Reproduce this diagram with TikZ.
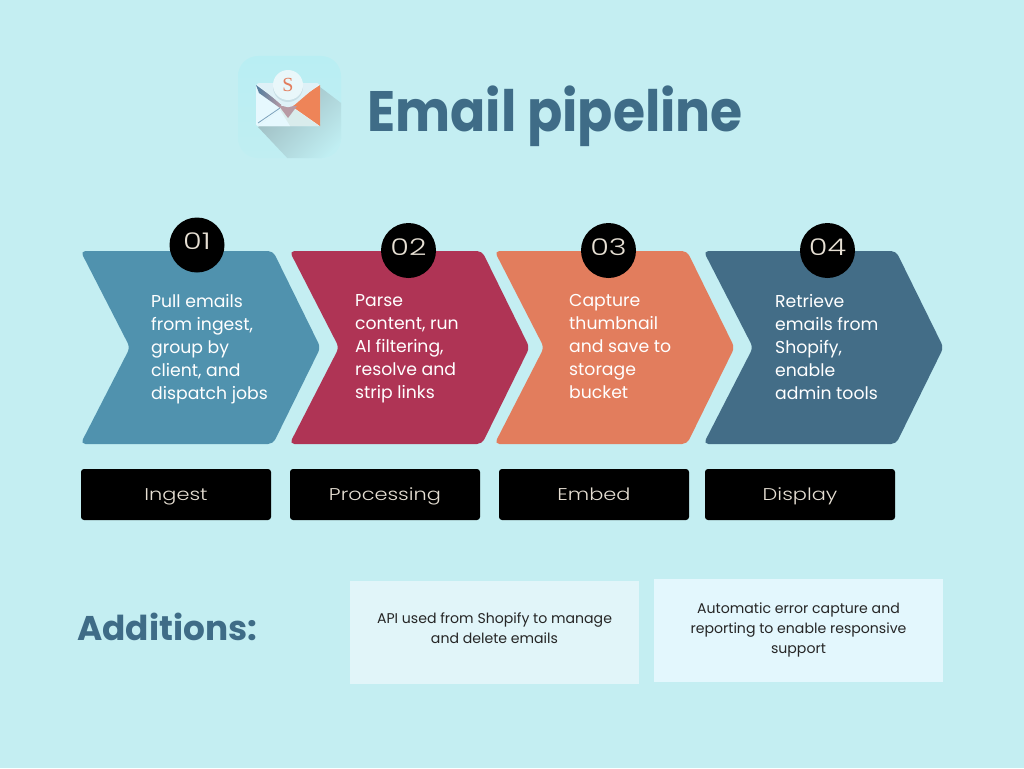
\documentclass[tikz,border=0pt]{standalone}
\usepackage{fontspec}
\setmainfont{Poppins}
\newfontfamily\widefont[FakeStretch=1.23]{Poppins Light}
\newfontfamily\numfont[FakeStretch=1.32]{Poppins Light}
\newfontfamily\titlefont[FakeStretch=0.912]{Poppins Bold}
\newfontfamily\iconserif{Liberation Serif}
\usetikzlibrary{shadings,fadings}
\definecolor{pagebg}{HTML}{C4EEF2}
\definecolor{stepblue}{HTML}{5092AE}
\definecolor{stepred}{HTML}{AF3455}
\definecolor{steporange}{HTML}{E27D5D}
\definecolor{stepslate}{HTML}{436D87}
\definecolor{headingcol}{HTML}{3F6C87}
\definecolor{labeltext}{HTML}{E6DFD3}
\definecolor{noteA}{HTML}{E1F5F9}
\definecolor{noteB}{HTML}{E3F7FD}
\definecolor{iconA}{HTML}{C0EEF2}
\definecolor{iconB}{HTML}{B9EEF3}
\definecolor{iconshadow}{HTML}{9DBABF}
\definecolor{envbody}{HTML}{E6F8FE}
\definecolor{envflap}{HTML}{DFF1F7}
\definecolor{envfold}{HTML}{B89AA4}
\definecolor{envlow}{HTML}{D9ECEC}
\definecolor{envleft}{HTML}{4F7C9E}
\definecolor{envright}{HTML}{EE8458}
\definecolor{discshadow}{HTML}{C9DFE6}
\definecolor{disc}{HTML}{E9F7FA}
\tikzset{
  chevron/.style={fill=#1,rounded corners=5pt},
  badge/.style={circle,fill=black,minimum size=55pt,inner sep=0pt,text=labeltext,text height=16pt,text depth=7pt,font=\numfont\fontsize{23}{23}\selectfont},
  stagelabel/.style={fill=black,rounded corners=3pt,minimum width=190pt,minimum height=51pt,inner sep=0pt,text=labeltext,text height=13pt,text depth=2pt,font=\widefont\fontsize{17}{20}\selectfont},
  steptext/.style={anchor=north west,inner sep=0pt,align=left,text=white,font=\fontsize{17.25}{23}\selectfont,execute at begin node={\rule{0pt}{16pt}}},
  notebox/.style={minimum width=289pt,minimum height=103pt,inner sep=0pt},
  notetext/.style={inner sep=0pt,align=center,text=black!85,font=\fontsize{14.1}{20}\selectfont},
}
\newcommand{\chevronat}[2]{%
  \fill[chevron=#2] (#1-1.5,251) -- (#1+191,251) -- (#1+238.5,347.5) -- (#1+191,444) -- (#1-1.5,444) -- (#1+48,347.5) -- cycle;}
\begin{document}
\begin{tikzpicture}[x=1pt,y=-1pt]
\useasboundingbox (0,0) rectangle (1024,768);
\fill[pagebg] (0,0) rectangle (1024,768);

% app icon: tile, cast shadow, envelope and seal
\begin{scope}
  \path[clip,rounded corners=20pt] (238,56) rectangle (341,158);
  \shade[top color=iconB,bottom color=iconA] (238,56) rectangle (341,158);
  \shade[top color=iconshadow,bottom color=iconA,shading angle=45] (258,127) -- (320,87) -- (345,106) -- (345,162) -- (291,162) -- cycle;
\end{scope}
\fill[envbody,rounded corners=2pt] (256,84) rectangle (320,126);
\fill[envright] (320,85) -- (320,126) -- (290,105) -- cycle;
\fill[envlow] (258,126) -- (284,107) -- (292,107) -- (319,126) -- cycle;
\fill[envbody] (258,126) -- (280,110) -- (290,126) -- cycle;
\shade[left color=envleft,right color=envfold] (256,85) -- (282,104) -- (280,108) -- (259,93) -- cycle;
\draw[envleft!70!envbody,line width=0.8pt] (258,123) -- (280,108);
\fill[envfold] (279,106) -- (288,118) -- (297,106) -- cycle;
\fill[envflap,rounded corners=3pt] (256,83) -- (320,83) -- (292,107) -- (284,107) -- cycle;
\fill[discshadow] (288,87) circle (15);
\fill[disc] (288,85) circle (15);
\node[text=steporange,font=\iconserif\fontsize{20}{20}\selectfont] (iconletter) at (288,85) {S};

% title
\node[anchor=base west,inner sep=0pt,text=headingcol,font=\titlefont\fontsize{57}{60}\selectfont] (title) at (367,131) {Email pipeline};

% process chevrons
\chevronat{82}{stepblue}
\chevronat{291}{stepred}
\chevronat{496}{steporange}
\chevronat{705}{stepslate}

\node[badge] (n1) at (197,245) {01};
\node[badge] (n2) at (408.5,250.5) {02};
\node[badge] (n3) at (608.5,250.5) {03};
\node[badge] (n4) at (827.5,250.5) {04};

\node[steptext] (t1) at (151,294) {Pull emails\\from ingest,\\group by\\client, and\\dispatch jobs};
\node[steptext] (t2) at (355,294.5) {Parse\\content, run\\AI filtering,\\resolve and\\strip links};
\node[steptext] (t3) at (569,294.5) {Capture\\thumbnail\\and save to\\storage\\bucket};
\node[steptext] (t4) at (775,294) {Retrieve\\emails from\\Shopify,\\enable\\admin tools};

\node[stagelabel] (s1) at (176,494.5) {Ingest};
\node[stagelabel] (s2) at (385,494.5) {Processing};
\node[stagelabel] (s3) at (594,494.5) {Embed};
\node[stagelabel] (s4) at (800,494.5) {Display};

% additions row
\node[anchor=west,inner sep=0pt,text=headingcol,font=\bfseries\fontsize{34.3}{38}\selectfont] (add) at (77,627) {Additions:};
\node[notebox,fill=noteA] (a1) at (494.5,632.5) {};
\node[notetext] (a1text) at (494.5,628.5) {API used from Shopify to manage\\and delete emails};
\node[notebox,fill=noteB] (a2) at (798.5,630.5) {};
\node[notetext] (a2text) at (798.5,630) {Automatic error capture and\\reporting to enable responsive\\support};
\end{tikzpicture}
\end{document}
